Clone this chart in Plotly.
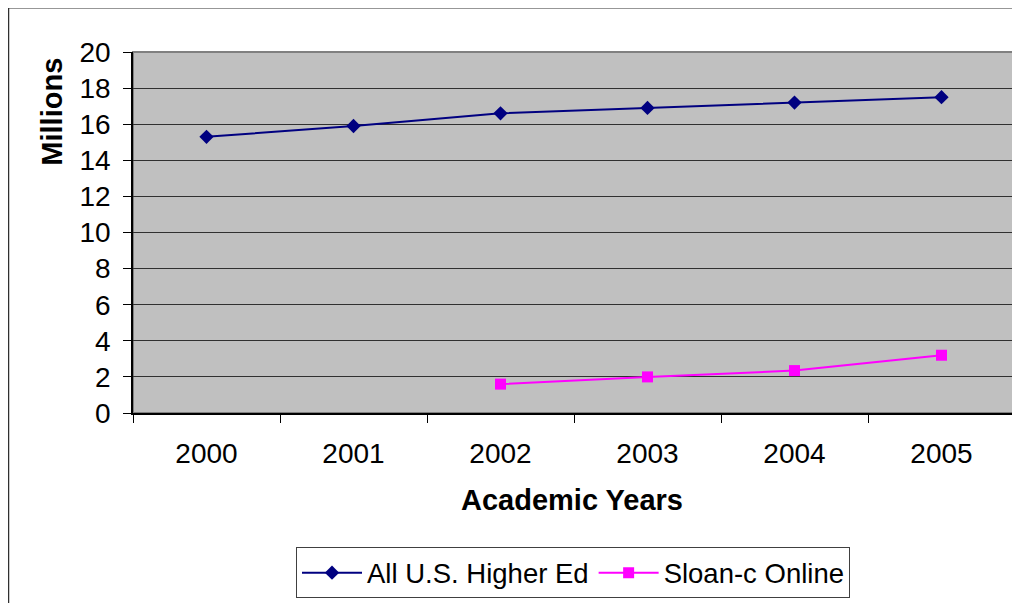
import plotly.graph_objects as go

years = ["2000", "2001", "2002", "2003", "2004", "2005"]
all_us = [15.3, 15.9, 16.6, 16.9, 17.2, 17.5]
sloan = [None, None, 1.6, 2.0, 2.35, 3.2]
y_ticks = [0, 2, 4, 6, 8, 10, 12, 14, 16, 18, 20]

# page offset caused by the default 8px body margin
OFF = 8
W, H = 1020 - OFF, 603 - OFF
L, R, T, B = 133, 1015, 52, 415  # plot area in page pixels
pw, ph = R - L, B - T

def px(x):
    return (x - L) / pw

def py(y):
    return (B - y) / ph

FONT = "Liberation Sans, Arial, sans-serif"

fig = go.Figure()
fig.add_trace(go.Scatter(
    x=years, y=all_us, name="All U.S. Higher Ed", mode="lines+markers",
    line=dict(color="#000080", width=2),
    marker=dict(symbol="diamond", size=11, color="#000080"),
))
fig.add_trace(go.Scatter(
    x=years, y=sloan, name="Sloan-c Online", mode="lines+markers",
    line=dict(color="#FF00FF", width=2),
    marker=dict(symbol="square", size=11, color="#FF00FF"),
))

fig.update_layout(
    width=W, height=H,
    margin=dict(l=L - OFF, r=(W + OFF) - R, t=T - OFF, b=(H + OFF) - B, pad=0),
    paper_bgcolor="white", plot_bgcolor="#C0C0C0",
    font=dict(family=FONT, size=28, color="black"),
    showlegend=True,
    legend=dict(
        orientation="h", x=px(573), xanchor="center", y=py(550), yanchor="top",
        bordercolor="#404040", borderwidth=1, bgcolor="white",
        font=dict(size=27.5), itemwidth=60,
    ),
    xaxis=dict(
        type="category", range=[-0.5, 5.5], tickson="boundaries",
        ticks="outside", ticklen=8, tickcolor="black", tickwidth=1,
        ticklabelstandoff=15,
        showline=True, linecolor="black", linewidth=1.5,
        showgrid=False, zeroline=False, fixedrange=True,
    ),
    yaxis=dict(
        range=[0, 20], tickvals=y_ticks, ticks="outside", ticklen=8,
        tickcolor="black", tickwidth=1, ticklabelstandoff=7,
        showline=True, linecolor="black", linewidth=1.5,
        showgrid=True, gridcolor="#303030", gridwidth=1, zeroline=False,
    ),
    shapes=[
        dict(type="rect", xref="paper", yref="paper", x0=0, x1=1, y0=0, y1=1,
             line=dict(color="#808080", width=2), layer="below"),
        dict(type="rect", xref="paper", yref="paper",
             x0=px(8.5), x1=px(1040), y0=py(640), y1=py(7.5),
             line=dict(color="#303030", width=1.5), layer="above"),
    ],
    annotations=[
        dict(text="<b>Millions</b>", textangle=-90, xref="paper", yref="paper",
             x=px(52), y=py(112), xanchor="center", yanchor="middle",
             showarrow=False, font=dict(size=29)),
        dict(text="<b>Academic Years</b>", xref="paper", yref="paper",
             x=px(572), y=py(502), xanchor="center", yanchor="middle",
             showarrow=False, font=dict(size=29)),
    ],
)

fig.write_html("out.html")
